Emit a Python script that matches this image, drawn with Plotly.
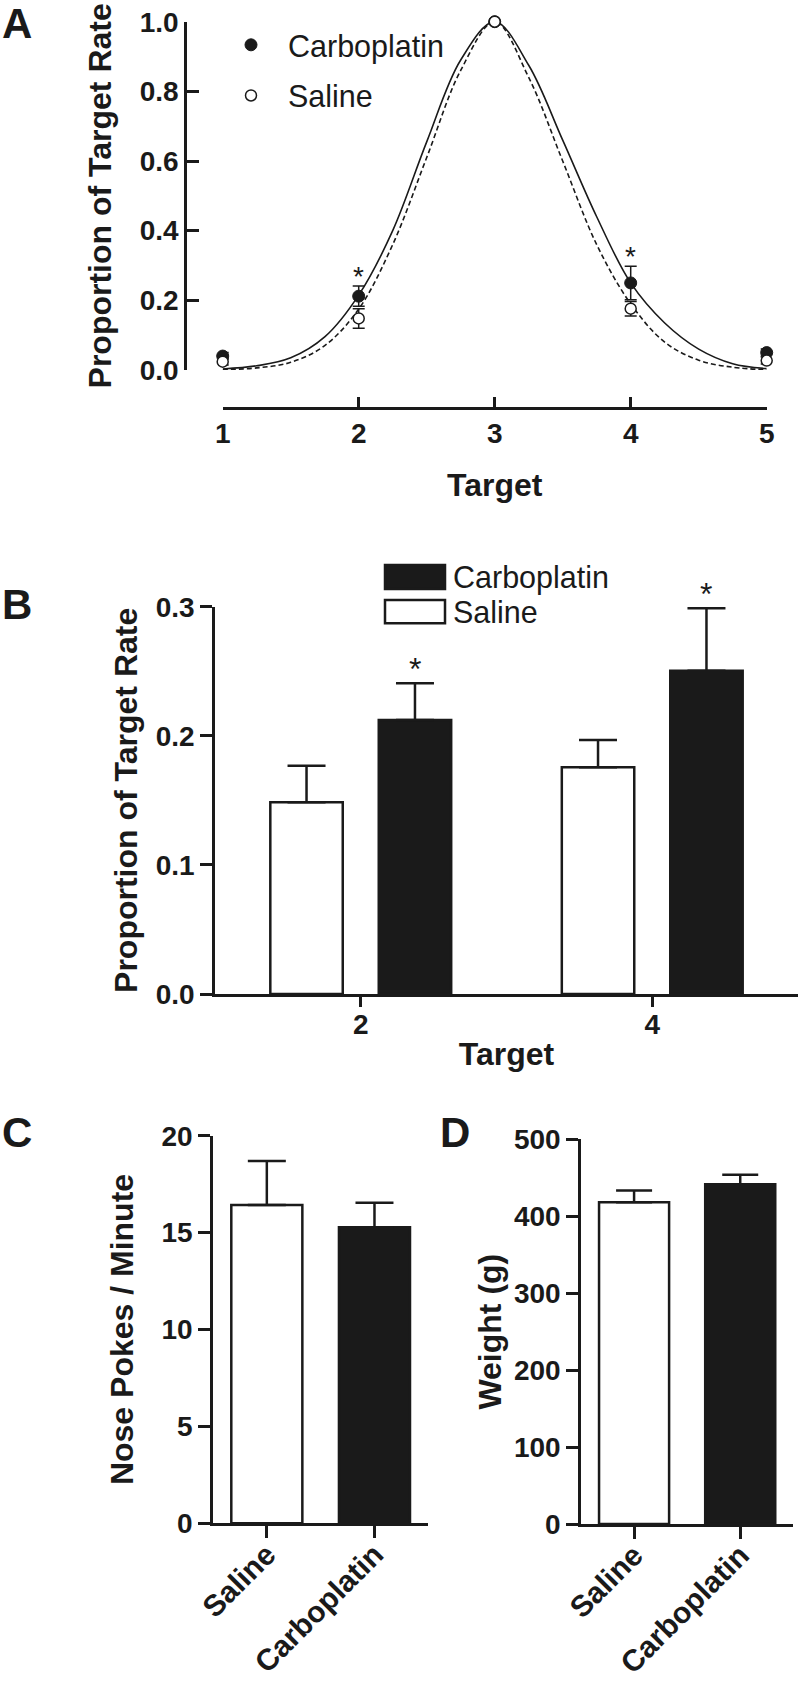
import plotly.graph_objects as go

# ---------------- Panel A: generalization gradient ----------------
targets = [1, 2, 3, 4, 5]
carbo_prop = [0.040, 0.212, 1.000, 0.250, 0.050]
carbo_sem = [0.010, 0.029, 0.000, 0.048, 0.010]
saline_prop = [0.024, 0.148, 1.000, 0.176, 0.027]
saline_sem = [0.010, 0.028, 0.000, 0.021, 0.010]

# fitted curves
fit_x = [1.0, 1.25, 1.5, 1.75, 2.0, 2.25, 2.5, 2.75, 3.0,
         3.25, 3.5, 3.75, 4.0, 4.25, 4.5, 4.75, 5.0]
carbo_fit = [0.003, 0.012, 0.035, 0.095, 0.215, 0.400, 0.655, 0.890, 1.000,
             0.875, 0.660, 0.440, 0.250, 0.135, 0.060, 0.018, 0.004]
saline_fit = [0.001, 0.006, 0.022, 0.070, 0.175, 0.360, 0.610, 0.860, 1.000,
              0.840, 0.600, 0.360, 0.190, 0.080, 0.028, 0.008, 0.001]

# ---------------- Panel B: targets 2 and 4 ----------------
b_targets = ["2", "4"]
b_saline = [0.1485, 0.1756]
b_saline_sem = [0.0283, 0.0211]
b_carbo = [0.2122, 0.2504]
b_carbo_sem = [0.0285, 0.0484]

# ---------------- Panels C and D ----------------
groups = ["Saline", "Carboplatin"]
nose_pokes = [16.42, 15.27]
nose_pokes_sem = [2.27, 1.27]
weight_g = [418.3, 441.7]
weight_sem = [15.1, 12.1]

INK = "#1a1a1a"
FONT = "Liberation Sans"
W, H = 799, 1687


def px(p):
    return p / W


def py(p):
    return 1 - p / H


fig = go.Figure()

# Panel A curves
fig.add_trace(go.Scatter(x=fit_x, y=carbo_fit, mode="lines", showlegend=False,
                         line=dict(color=INK, width=1.6, shape="spline", smoothing=1),
                         xaxis="x", yaxis="y", hoverinfo="skip", cliponaxis=False))
fig.add_trace(go.Scatter(x=fit_x, y=saline_fit, mode="lines", showlegend=False,
                         line=dict(color=INK, width=1.6, shape="spline", smoothing=1, dash="5px,3px"),
                         xaxis="x", yaxis="y", hoverinfo="skip", cliponaxis=False))
# Panel A points
fig.add_trace(go.Scatter(x=targets, y=carbo_prop, mode="markers", name="Carboplatin",
                         marker=dict(size=12, color=INK, line=dict(color=INK, width=1)),
                         error_y=dict(type="data", array=carbo_sem, visible=True,
                                      color=INK, thickness=1.5, width=6),
                         xaxis="x", yaxis="y", cliponaxis=False, legendgroup="c"))
fig.add_trace(go.Scatter(x=targets, y=saline_prop, mode="markers", name="Saline",
                         marker=dict(size=11, color="white", line=dict(color=INK, width=1.5)),
                         error_y=dict(type="data", array=saline_sem, visible=True,
                                      color=INK, thickness=1.5, width=6),
                         xaxis="x", yaxis="y", cliponaxis=False, legendgroup="s"))

# Panel B bars
fig.add_trace(go.Bar(x=b_targets, y=b_saline, name="Saline", showlegend=False,
                     marker=dict(color="white", line=dict(color=INK, width=2.5)),
                     error_y=dict(type="data", symmetric=False, array=b_saline_sem,
                                  arrayminus=[0, 0], color=INK, thickness=2.5, width=19),
                     xaxis="x2", yaxis="y2"))
fig.add_trace(go.Bar(x=b_targets, y=b_carbo, name="Carboplatin", showlegend=False,
                     marker=dict(color=INK, line=dict(color=INK, width=2.5)),
                     error_y=dict(type="data", symmetric=False, array=b_carbo_sem,
                                  arrayminus=[0, 0], color=INK, thickness=2.5, width=19),
                     xaxis="x2", yaxis="y2"))

# Panel C
fig.add_trace(go.Bar(x=groups, y=nose_pokes, showlegend=False, width=[0.66, 0.66],
                     marker=dict(color=["white", INK], line=dict(color=INK, width=2.5)),
                     error_y=dict(type="data", symmetric=False, array=nose_pokes_sem,
                                  arrayminus=[0, 0], color=INK, thickness=2.5, width=19),
                     xaxis="x3", yaxis="y3"))
# Panel D
fig.add_trace(go.Bar(x=groups, y=weight_g, showlegend=False, width=[0.66, 0.66],
                     marker=dict(color=["white", INK], line=dict(color=INK, width=2.5)),
                     error_y=dict(type="data", symmetric=False, array=weight_sem,
                                  arrayminus=[0, 0], color=INK, thickness=2.5, width=18),
                     xaxis="x4", yaxis="y4"))

tickfont = dict(family=FONT, size=28, color=INK, weight="bold")
catfont = dict(family=FONT, size=30, color=INK, weight="bold")
titlefont = dict(family=FONT, size=32, color=INK, weight="bold")
axis_common = dict(showline=True, linecolor=INK, linewidth=2.5, tickcolor=INK,
                   tickwidth=2.5, showgrid=False, zeroline=False,
                   fixedrange=True, automargin=False)

BARGAP = 0.256
BARGROUPGAP = 0.332
carbo_offset = (1 - BARGAP) / 4

fig.update_layout(
    width=W, height=H, margin=dict(l=0, r=0, t=0, b=0, autoexpand=False),
    paper_bgcolor="white", plot_bgcolor="white",
    barmode="group", bargap=BARGAP, bargroupgap=BARGROUPGAP,
    showlegend=True,
    legend=dict(x=px(214), y=py(18.5), xanchor="left", yanchor="top",
                font=dict(family=FONT, size=30.5, color=INK),
                bgcolor="rgba(0,0,0,0)", itemwidth=64, traceorder="grouped",
                tracegroupgap=8),
    # Panel A
    xaxis=dict(domain=[px(222.7), px(766.7)], range=[1, 5], anchor="free",
               position=py(408), tickvals=targets, ticks="inside", ticklen=10,
               ticklabelstandoff=0, tickfont=tickfont,
               title=dict(text="Target", font=titlefont, standoff=25), **axis_common),
    yaxis=dict(domain=[py(370), py(21.7)], range=[0, 1], anchor="free",
               position=px(185), dtick=0.2, tickformat=".1f", ticks="inside", ticklen=12,
               tickfont=tickfont,
               title=dict(text="Proportion of Target Rate", font=titlefont, standoff=17),
               **axis_common),
    # Panel B
    xaxis2=dict(domain=[px(215), px(798)], anchor="y2", type="category",
                range=[-0.5, 1.5], ticks="outside", ticklen=10, tickfont=tickfont,
                ticklabelstandoff=-6,
                title=dict(text="Target", font=titlefont, standoff=4), **axis_common),
    yaxis2=dict(domain=[py(994), py(606.7)], anchor="x2", range=[0, 0.3], dtick=0.1,
                tickformat=".1f", ticks="outside", ticklen=12, tickfont=tickfont,
                title=dict(text="Proportion of Target Rate", font=titlefont, standoff=9),
                **axis_common),
    # Panel C
    xaxis3=dict(domain=[px(213), px(428.3)], anchor="y3", type="category",
                range=[-0.5, 1.5], ticks="outside", ticklen=12, tickangle=-45,
                ticklabelstandoff=-13, tickfont=catfont, **axis_common),
    yaxis3=dict(domain=[py(1523.3), py(1135.7)], anchor="x3", range=[0, 20], dtick=5,
                ticks="outside", ticklen=12, tickfont=tickfont,
                title=dict(text="Nose Pokes / Minute", font=titlefont, standoff=19),
                **axis_common),
    # Panel D
    xaxis4=dict(domain=[px(581), px(793.3)], anchor="y4", type="category",
                range=[-0.5, 1.5], ticks="outside", ticklen=12, tickangle=-45,
                ticklabelstandoff=-13, tickfont=catfont, **axis_common),
    yaxis4=dict(domain=[py(1524), py(1139.3)], anchor="x4", range=[0, 500], dtick=100,
                ticks="outside", ticklen=12, tickfont=tickfont,
                title=dict(text="Weight (g)", font=titlefont, standoff=3),
                **axis_common),
)

# Panel letters
letterfont = dict(family=FONT, size=42, color=INK, weight="bold")
for txt, cx, cy in [("A", 0, 24), ("B", 0, 604), ("C", 0, 1132), ("D", 438, 1132)]:
    fig.add_annotation(text=txt, x=px(cx), y=py(cy), xref="paper", yref="paper",
                       xanchor="left", yanchor="middle", showarrow=False, font=letterfont)

# Significance asterisks
starfont_a = dict(family=FONT, size=28, color=INK)
for i in (1, 3):
    fig.add_annotation(text="*", x=targets[i], y=carbo_prop[i] + carbo_sem[i],
                       xref="x", yref="y", xanchor="center", yanchor="bottom",
                       showarrow=False, font=starfont_a, yshift=-8)
starfont_b = dict(family=FONT, size=32, color=INK)
for i in range(len(b_targets)):
    fig.add_annotation(text="*", x=i + carbo_offset, y=b_carbo[i] + b_carbo_sem[i],
                       xref="x2", yref="y2", xanchor="center", yanchor="bottom",
                       showarrow=False, font=starfont_b, yshift=-6)

# Panel B legend (key boxes + labels)
fig.add_shape(type="rect", xref="paper", yref="paper", x0=px(385), x1=px(445),
              y0=py(589), y1=py(565), fillcolor=INK, line=dict(color=INK, width=2.5))
fig.add_shape(type="rect", xref="paper", yref="paper", x0=px(385), x1=px(445),
              y0=py(623.3), y1=py(600), fillcolor="white", line=dict(color=INK, width=2.5))
legfont = dict(family=FONT, size=30.5, color=INK)
fig.add_annotation(text="Carboplatin", x=px(451), y=py(577), xref="paper", yref="paper",
                   xanchor="left", yanchor="middle", showarrow=False, font=legfont)
fig.add_annotation(text="Saline", x=px(451), y=py(612), xref="paper", yref="paper",
                   xanchor="left", yanchor="middle", showarrow=False, font=legfont)

fig.write_html(
    "out.html",
    config={"displayModeBar": False},
    post_script="document.body.style.margin='0';document.body.style.padding='0';"
                "document.documentElement.style.overflow='hidden';",
)
